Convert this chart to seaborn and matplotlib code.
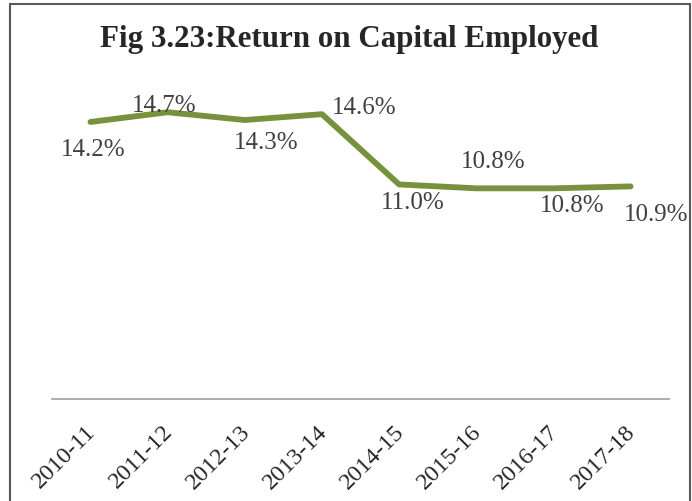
import numpy as np
import pandas as pd
import matplotlib
matplotlib.use("Agg")
import matplotlib.pyplot as plt
import matplotlib.transforms as mtransforms
import seaborn as sns
from matplotlib.patches import Rectangle

# Return on capital employed, by year (%)
years = ["2010-11", "2011-12", "2012-13", "2013-14", "2014-15", "2015-16", "2016-17", "2017-18"]
roce = [14.2, 14.7, 14.3, 14.6, 11.0, 10.8, 10.8, 10.9]
# where Excel put each data label, offset from the point in pixels
label_dx = [3, -3, 21, 42, 14, 17, 19, 26]
label_dy = [-27, 7, -22, 7, -18, 27, -17, -28]

sns.set_theme(style="white")
plt.rcParams["font.family"] = ["Liberation Serif", "DejaVu Serif"]

df = pd.DataFrame({"year": years, "roce": roce})

fig = plt.figure(figsize=(6.92, 5.02), dpi=100)
ax = fig.add_axes([0.075, 0.203, 0.892, 0.622])

sns.lineplot(data=df, x="year", y="roce", ax=ax, color="#76923C",
             linewidth=4.2, sort=False, solid_capstyle="round")

ax.set_ylim(0, 16)
ax.set_xlim(-0.5, len(years) - 0.5)
ax.set_yticks([])
ax.set_xlabel("")
ax.set_ylabel("")
for s in ["top", "right", "left"]:
    ax.spines[s].set_visible(False)
ax.spines["bottom"].set_color("#A6A6A6")
ax.spines["bottom"].set_linewidth(1.3)
ax.tick_params(axis="x", length=0, pad=13)
# nudge the rotated labels a little left and down, like the original
shift = mtransforms.ScaledTranslation(-0.055, -0.03, fig.dpi_scale_trans)
for t in ax.get_xticklabels():
    t.set_rotation(45)
    t.set_ha("right")
    t.set_rotation_mode("anchor")
    t.set_fontsize(17.5)
    t.set_color("#262626")
    t.set_transform(t.get_transform() + shift)

for i, v in enumerate(roce):
    ax.annotate(f"{v:.1f}%", xy=(i, v), xytext=(label_dx[i], label_dy[i]),
                textcoords="offset pixels", ha="center", va="center",
                fontsize=18, color="#404040")

fig.text(0.505, 0.922, "Fig 3.23:Return on Capital Employed", ha="center",
         va="center", fontsize=22.3, fontweight="bold", color="#262626")

fig.patches.append(Rectangle((10 / 692, -0.05), 680 / 692, 1.05 - 5 / 502,
                             transform=fig.transFigure, fill=False,
                             edgecolor="#595959", linewidth=1.5))

fig.savefig("out.png", dpi=100)
